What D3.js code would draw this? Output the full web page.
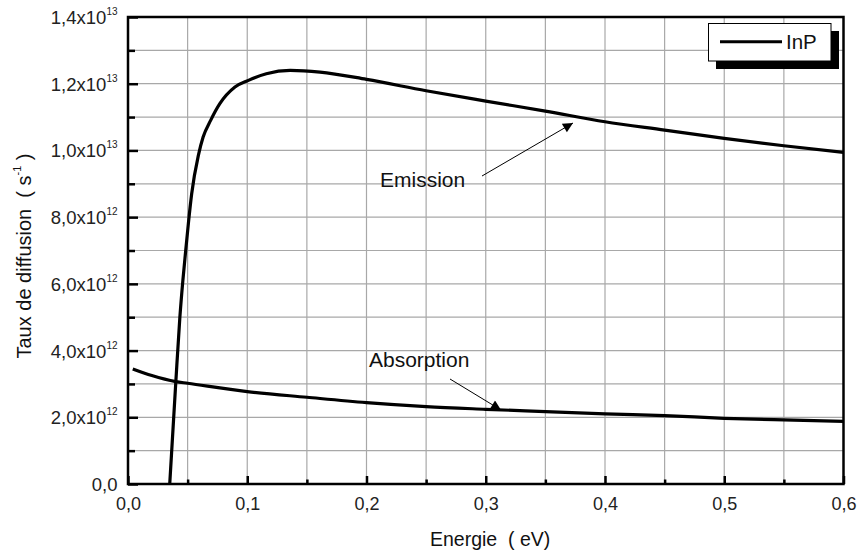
<!DOCTYPE html>
<html><head><meta charset="utf-8">
<script src="https://cdn.jsdelivr.net/npm/d3@7/dist/d3.min.js"></script>
<style>html,body{margin:0;padding:0;background:#fff}svg{display:block}text{white-space:pre}</style>
</head><body>
<svg id="chart" width="859" height="554"></svg>
<script>
// ---- data ----
const emissionE = [0.035, 0.040, 0.0435, 0.046, 0.0484, 0.0506, 0.0534, 0.059, 0.063, 0.0693, 0.077, 0.0897, 0.101, 0.116, 0.136, 0.161, 0.2, 0.25, 0.3, 0.35, 0.4, 0.45, 0.5, 0.55, 0.6];
const emissionV = [0, 3.0e12, 5.0e12, 6.1e12, 7.0e12, 7.8e12, 8.7e12, 9.85e12, 10.4e12, 10.9e12, 11.4e12, 11.9e12, 12.1e12, 12.3e12, 12.4e12, 12.35e12, 12.13e12, 11.79e12, 11.48e12, 11.18e12, 10.86e12, 10.61e12, 10.36e12, 10.14e12, 9.94e12];
const absorptionE = [0.004, 0.02, 0.04, 0.05, 0.1, 0.15, 0.2, 0.25, 0.3, 0.35, 0.4, 0.45, 0.5, 0.55, 0.6];
const absorptionV = [3.45e12, 3.25e12, 3.07e12, 3.02e12, 2.77e12, 2.60e12, 2.44e12, 2.32e12, 2.24e12, 2.17e12, 2.10e12, 2.05e12, 1.97e12, 1.92e12, 1.88e12];
const xMajorTicks = [0, 0.1, 0.2, 0.3, 0.4, 0.5, 0.6];
const xTickLabels = ["0,0", "0,1", "0,2", "0,3", "0,4", "0,5", "0,6"];
const xMinorTicks = [0.05, 0.15, 0.25, 0.35, 0.45, 0.55];
const yMajorTicks = [0, 2e12, 4e12, 6e12, 8e12, 1e13, 1.2e13, 1.4e13];
const yTickMantissa = ["0,0", "2,0x10", "4,0x10", "6,0x10", "8,0x10", "1,0x10", "1,2x10", "1,4x10"];
const yTickExponent = ["", "12", "12", "12", "12", "13", "13", "13"];
const yMinorTicks = [1e12, 3e12, 5e12, 7e12, 9e12, 1.1e13, 1.3e13];
const seriesName = "InP";
const xTitle = "Energie  ( eV)";
const yTitleMain = "Taux de diffusion  ( s";
const yTitleSup = "-1";
const yTitleEnd = " )";

// ---- layout ----
const svg = d3.select("#chart");
const font = "'Liberation Sans', Arial, sans-serif";
const L = 128, R = 843.5, T = 17, B = 484;
const x = d3.scaleLinear().domain([0, 0.6]).range([L, R]);
const y = d3.scaleLinear().domain([0, 1.4e13]).range([B, T]);

// grid
const grid = svg.append("g").attr("stroke", "#a8a8a8").attr("stroke-width", 1.2);
xMajorTicks.concat(xMinorTicks).forEach(v => {
  if (v <= 0 || v >= 0.6) return;
  grid.append("line").attr("x1", x(v)).attr("x2", x(v)).attr("y1", T).attr("y2", B);
});
yMajorTicks.concat(yMinorTicks).forEach(v => {
  if (v <= 0 || v >= 1.4e13) return;
  grid.append("line").attr("x1", L).attr("x2", R).attr("y1", y(v)).attr("y2", y(v));
});

// axes (ticks inward)
const xAxis = d3.axisBottom(x).tickValues(xMajorTicks).tickSize(-8).tickFormat((d, i) => xTickLabels[i]);
const gx = svg.append("g").attr("transform", `translate(0,${B})`).call(xAxis);
gx.select(".domain").remove();
gx.selectAll(".tick line").attr("stroke", "#000").attr("stroke-width", 2.5);
gx.selectAll(".tick text").attr("font-family", font).attr("font-size", 18).attr("fill", "#222").attr("dy", null).attr("y", 26);
const xAxisMinor = d3.axisBottom(x).tickValues(xMinorTicks).tickSize(-4.5).tickFormat("");
const gxm = svg.append("g").attr("transform", `translate(0,${B})`).call(xAxisMinor);
gxm.select(".domain").remove();
gxm.selectAll(".tick line").attr("stroke", "#000").attr("stroke-width", 2.5);

const yAxis = d3.axisLeft(y).tickValues(yMajorTicks).tickSize(-10).tickFormat("");
const gy = svg.append("g").attr("transform", `translate(${L},0)`).call(yAxis);
gy.select(".domain").remove();
gy.selectAll(".tick line").attr("stroke", "#000").attr("stroke-width", 2.5);
const yAxisMinor = d3.axisLeft(y).tickValues(yMinorTicks).tickSize(-7).tickFormat("");
const gym = svg.append("g").attr("transform", `translate(${L},0)`).call(yAxisMinor);
gym.select(".domain").remove();
gym.selectAll(".tick line").attr("stroke", "#000").attr("stroke-width", 2.5);

// y tick labels with superscripts
yMajorTicks.forEach((v, i) => {
  const t = svg.append("text").attr("x", 117.5).attr("y", y(v) + 7)
    .attr("text-anchor", "end").attr("font-family", font).attr("font-size", 18.5).attr("fill", "#222");
  t.append("tspan").text(yTickMantissa[i]);
  if (yTickExponent[i]) {
    t.append("tspan").attr("font-size", 10).attr("dy", -9).text(yTickExponent[i]);
  }
});

// frame
svg.append("rect").attr("x", L).attr("y", T).attr("width", R - L).attr("height", B - T)
  .attr("fill", "none").attr("stroke", "#000").attr("stroke-width", 2.5);

// curves
const line = d3.line().curve(d3.curveMonotoneX);
const emiPts = emissionE.map((e, i) => [x(e), y(emissionV[i])]);
const absPts = absorptionE.map((e, i) => [x(e), y(absorptionV[i])]);
svg.append("path").attr("d", line(absPts)).attr("fill", "none").attr("stroke", "#000").attr("stroke-width", 3.2);
svg.append("path").attr("d", line(emiPts)).attr("fill", "none").attr("stroke", "#000").attr("stroke-width", 3.2);

// annotations
const defs = svg.append("defs");
defs.append("marker").attr("id", "arr").attr("viewBox", "0 0 10 10").attr("refX", 10).attr("refY", 5)
  .attr("markerWidth", 14).attr("markerHeight", 10).attr("markerUnits", "userSpaceOnUse").attr("orient", "auto")
  .append("path").attr("d", "M0,0 L10,5 L0,10 z").attr("fill", "#000");
function annot(text, tx, ty, x1, y1, x2, y2) {
  svg.append("text").attr("x", tx).attr("y", ty).attr("font-family", font).attr("font-size", 21).attr("fill", "#111").text(text);
  svg.append("line").attr("x1", x1).attr("y1", y1).attr("x2", x2).attr("y2", y2)
    .attr("stroke", "#000").attr("stroke-width", 1).attr("marker-end", "url(#arr)");
}
annot("Emission", 380, 187, 482, 176, 573, 123);
annot("Absorption", 369, 367, 450, 379, 501, 410);

// legend
svg.append("rect").attr("x", 716).attr("y", 31).attr("width", 123).attr("height", 38).attr("fill", "#000");
svg.append("rect").attr("x", 708.5).attr("y", 23.5).attr("width", 122.5).attr("height", 37.5)
  .attr("fill", "#fff").attr("stroke", "#000").attr("stroke-width", 1);
svg.append("line").attr("x1", 720).attr("x2", 782).attr("y1", 41.7).attr("y2", 41.7).attr("stroke", "#000").attr("stroke-width", 3);
svg.append("text").attr("x", 786).attr("y", 48.5).attr("font-family", font).attr("font-size", 20.5).attr("fill", "#111").text(seriesName);

// axis titles
svg.append("text").attr("x", 430).attr("y", 546).attr("text-anchor", "start")
  .attr("font-family", font).attr("font-size", 19.5).attr("fill", "#111").text(xTitle);
const yt = svg.append("text").attr("transform", "translate(31,256) rotate(-90)").attr("text-anchor", "middle")
  .attr("font-family", font).attr("font-size", 20).attr("fill", "#111");
yt.append("tspan").text(yTitleMain);
yt.append("tspan").attr("font-size", 11).attr("dy", -10).text(yTitleSup);
yt.append("tspan").attr("dy", 10).text(yTitleEnd);
</script>
</body></html>
